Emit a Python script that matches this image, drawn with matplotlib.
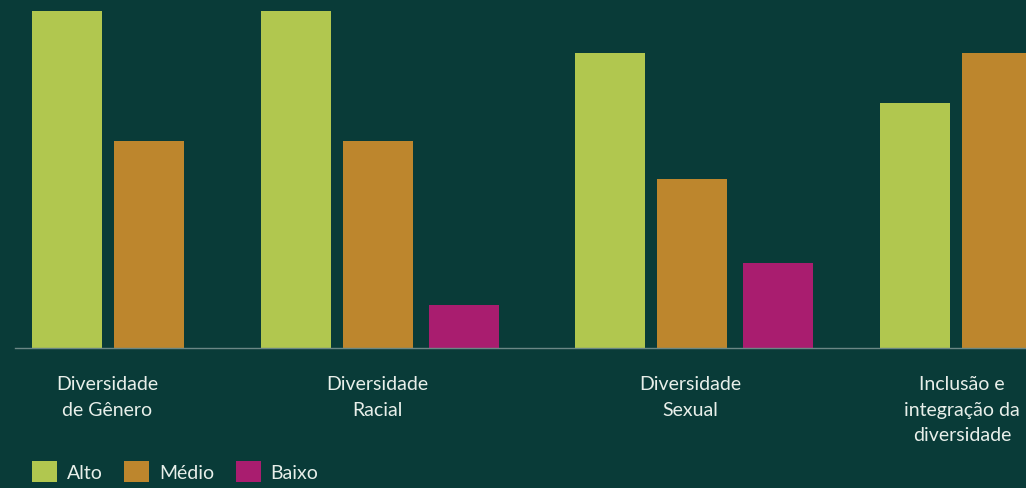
import matplotlib.pyplot as plt
from matplotlib.patches import Patch

plt.rcParams['font.family'] = ['Lato', 'DejaVu Sans']

categories = ['Diversidade\nde Gênero', 'Diversidade\nRacial',
              'Diversidade\nSexual', 'Inclusão e\nintegração da\ndiversidade']
series = ['Alto', 'Médio', 'Baixo']
alto = [80, 80, 70, 58]
medio = [49, 49, 40, 70]
baixo = [0, 10, 20, 0]

colors = ['#b1c74f', '#bd862d', '#a91d6f']
bg = '#093b38'
txt = '#e8efea'

# layout (pixel-like x units)
group_start = [67, 296, 610, 915]
slot = [0, 82, 168]
label_x = [107, 377, 690, 962]

fig = plt.figure(figsize=(10.26, 4.89), dpi=100)
fig.patch.set_facecolor(bg)
ax = fig.add_axes([15 / 1026, 1 - 348.5 / 489, 1 - 15 / 1026, 337 / 489])
ax.set_facecolor(bg)

for s, vals in enumerate([alto, medio, baixo]):
    for g, v in enumerate(vals):
        if v > 0:
            ax.bar(group_start[g] + slot[s], v, width=70, color=colors[s], zorder=2)

ax.set_xlim(15, 1026)
ax.set_ylim(0, 80)
for sp in ['top', 'right', 'left']:
    ax.spines[sp].set_visible(False)
ax.spines['bottom'].set_color('#6b8785')
ax.spines['bottom'].set_linewidth(1)
ax.spines['bottom'].set_zorder(3)
ax.set_yticks([])
ax.set_xticks(label_x)
ax.set_xticklabels(categories, color=txt, fontsize=14, linespacing=1.6, va='top')
ax.tick_params(axis='x', length=0, pad=20)

handles = [Patch(facecolor=c, edgecolor='none') for c in colors]
leg = fig.legend(handles, series, loc='lower left', bbox_to_anchor=(30 / 1026 - 0.004, 0.0),
                 ncol=3, frameon=False, fontsize=14, handlelength=1.3, handleheight=1.3,
                 handletextpad=0.5, columnspacing=1.1, borderaxespad=0.1, borderpad=0.2)
for t in leg.get_texts():
    t.set_color(txt)

fig.savefig('out.png', dpi=100, facecolor=bg)
